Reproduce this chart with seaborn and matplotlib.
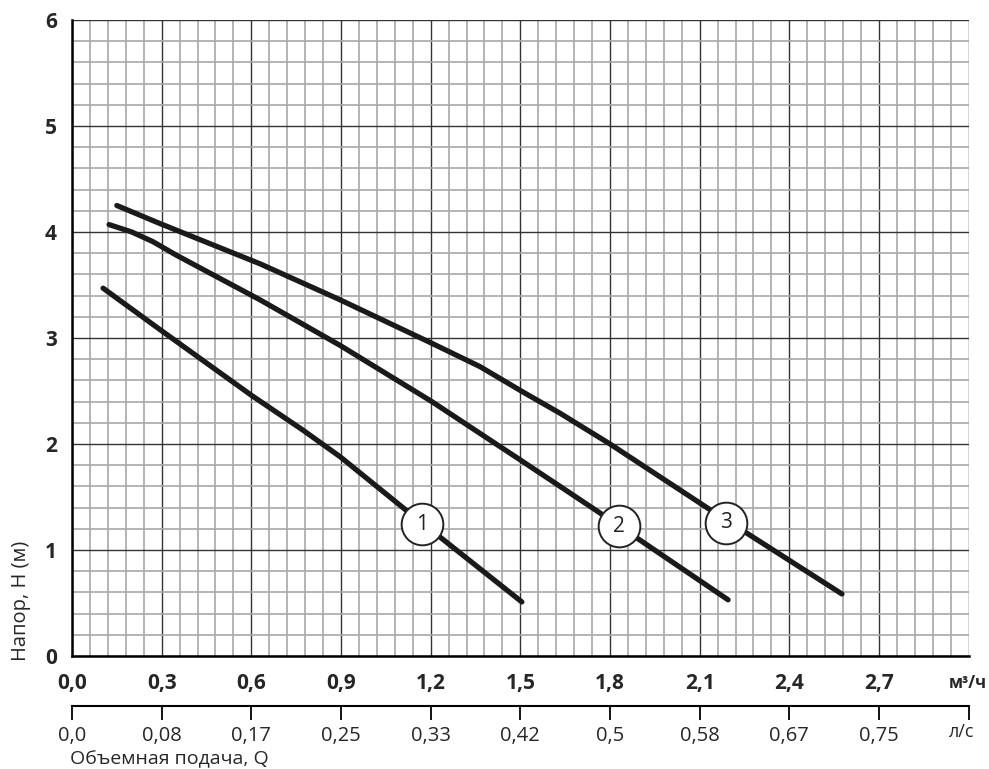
import numpy as np
import pandas as pd
import matplotlib
matplotlib.use("Agg")
import matplotlib.pyplot as plt
from matplotlib.ticker import MultipleLocator, FixedLocator, FixedFormatter
import seaborn as sns

# ---- data ----
c1_q = [0.104, 0.294, 0.600, 0.773, 0.897, 1.107, 1.505]
c1_h = [3.47, 3.08, 2.46, 2.13, 1.88, 1.40, 0.51]

c2_q = [0.124, 0.200, 0.270, 0.350, 0.629, 0.897, 1.204, 1.365, 1.505, 1.633, 1.766, 2.195]
c2_h = [4.07, 4.00, 3.91, 3.78, 3.36, 2.93, 2.40, 2.10, 1.84, 1.60, 1.35, 0.53]

c3_q = [0.150, 0.294, 0.629, 0.897, 1.204, 1.365, 1.509, 1.633, 1.800, 2.124, 2.576]
c3_h = [4.25, 4.08, 3.70, 3.36, 2.95, 2.73, 2.49, 2.29, 2.00, 1.40, 0.585]

marker_q = [1.171, 1.830, 2.188]
marker_h = [1.245, 1.225, 1.255]
marker_labels = ["1", "2", "3"]

x_ticks = [0.0, 0.3, 0.6, 0.9, 1.2, 1.5, 1.8, 2.1, 2.4, 2.7, 3.0]
x_labels = ["0,0", "0,3", "0,6", "0,9", "1,2", "1,5", "1,8", "2,1", "2,4", "2,7", ""]
ls_labels = ["0,0", "0,08", "0,17", "0,25", "0,33", "0,42", "0,5", "0,58", "0,67", "0,75", ""]
y_ticks = [0, 1, 2, 3, 4, 5, 6]

df = pd.concat([
    pd.DataFrame({"Q": c1_q, "H": c1_h, "curve": "1"}),
    pd.DataFrame({"Q": c2_q, "H": c2_h, "curve": "2"}),
    pd.DataFrame({"Q": c3_q, "H": c3_h, "curve": "3"}),
])

sns.set_style("white")
plt.rcParams["font.family"] = ["Open Sans", "DejaVu Sans"]

fig = plt.figure(figsize=(9.89, 7.69), dpi=100)
ax = fig.add_axes([72 / 989, 1 - 656 / 769, (968.7 - 72) / 989, (656 - 20) / 769])

sns.lineplot(data=df, x="Q", y="H", hue="curve", units="curve", estimator=None,
             sort=False, palette=["#1a1a1a"] * 3, linewidth=3.8, legend=False,
             ax=ax, zorder=3, solid_capstyle="round", solid_joinstyle="round")

ax.scatter(marker_q, marker_h, s=900, facecolor="white", edgecolor="#222222",
           linewidths=1.4, zorder=5)
for q, h, t in zip(marker_q, marker_h, marker_labels):
    ax.text(q, h, t, ha="center", va="center", fontsize=15, color="#222222", zorder=6)

ax.set_xlim(0, 3.0)
ax.set_ylim(0, 6)

ax.xaxis.set_major_locator(FixedLocator(x_ticks))
ax.xaxis.set_major_formatter(FixedFormatter(x_labels))
ax.xaxis.set_minor_locator(MultipleLocator(0.06))
ax.yaxis.set_major_locator(FixedLocator(y_ticks))
ax.yaxis.set_minor_locator(MultipleLocator(0.2))

ax.grid(which="major", color="#333333", linewidth=1.0, zorder=1)
ax.grid(which="minor", color="#a8a8a8", linewidth=1.2, zorder=0)
ax.set_axisbelow(True)

for s in ["top", "right"]:
    ax.spines[s].set_visible(False)
for s in ["left", "bottom"]:
    ax.spines[s].set_color("black")
    ax.spines[s].set_linewidth(1.8)

ax.tick_params(axis="both", which="major", direction="out", length=7, width=1.3,
               color="black", labelsize=15)
ax.tick_params(axis="x", which="major", pad=5)
ax.tick_params(axis="y", which="major", pad=4)
ax.tick_params(which="minor", length=0)
for lab in ax.get_xticklabels() + ax.get_yticklabels():
    lab.set_fontweight("bold")
ax.set_xlabel("")
ax.set_ylabel("")

# secondary axis (l/s)
sec = ax.secondary_xaxis(-0.078)
sec.xaxis.set_major_locator(FixedLocator(x_ticks))
sec.xaxis.set_major_formatter(FixedFormatter(ls_labels))
sec.tick_params(axis="x", direction="out", length=10, width=1.3, color="black",
                labelsize=14.5, pad=5)
sec.spines["bottom"].set_linewidth(1.5)
sec.spines["bottom"].set_color("black")

fig.text(987 / 989, 1 - 683 / 769, "м³/ч", ha="right", va="center",
         fontsize=12, fontweight="bold")
fig.text(962 / 989, 1 - 732 / 769, "л/с", ha="center", va="center", fontsize=13)
fig.text(70 / 989, 1 - 759 / 769, "Объемная подача, Q", ha="left", va="center",
         fontsize=14)
fig.text(21 / 989, 1 - 601 / 769, "Напор, H (м)", ha="center", va="center",
         rotation=90, fontsize=14.5)

fig.savefig("out.png", dpi=100)
